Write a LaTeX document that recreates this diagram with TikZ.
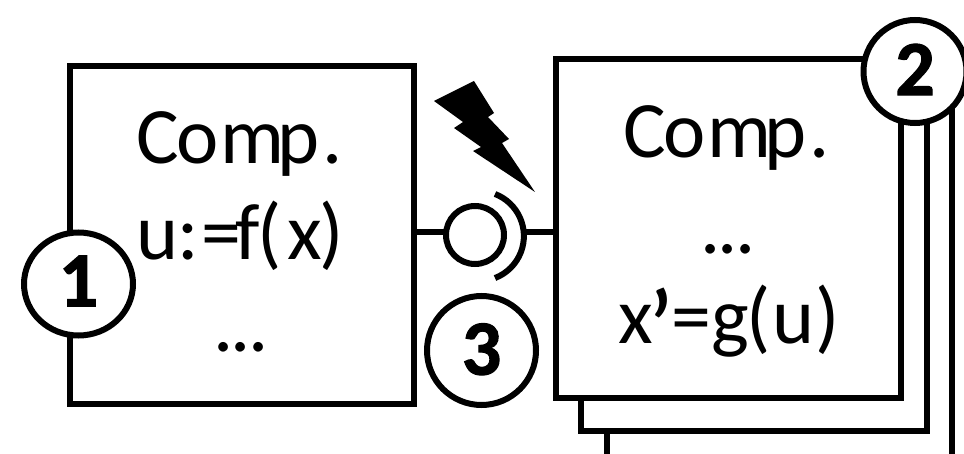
\documentclass[tikz,border=0pt]{standalone}
\usepackage{fontspec}
\setmainfont[BoldFeatures={FakeBold=1.5}]{Carlito}
\usetikzlibrary{shapes.geometric}
\newcommand{\compword}{C\kern-2.5pt o\kern1.5pt m\kern-6.5pt p\kern3pt .}
\newcommand{\dotsword}{.\kern-3pt .\kern-3pt .}
\tikzset{
  box/.style={draw=black,line width=6pt,fill=white,line join=miter,outer sep=0pt},
  num/.style={draw=black,line width=6pt,fill=white,inner sep=0pt,outer sep=0pt,font=\fontsize{78}{78}\selectfont\bfseries},
  lbl/.style={font=\fontsize{80}{80}\selectfont,inner sep=0pt,anchor=base west},
  wire/.style={draw=black,line width=6pt}
}
\begin{document}
\begin{tikzpicture}[x=1pt,y=-1pt]
\useasboundingbox (0,0) rectangle (964,454);
\begin{scope}
\clip (0,0) rectangle (964,454);
% stacked boxes
\draw[box] (607,60) rectangle (952,456.7);
\draw[box] (581,60) rectangle (927,431);
\node[box,minimum width=345pt,minimum height=339pt,inner sep=0pt,anchor=north west] (R) at (556,59) {};
\node[box,minimum width=344pt,minimum height=338pt,inner sep=0pt,anchor=north west] (L) at (70,66) {};
% connector
\coordinate (LE) at (414,232);
\coordinate (RE) at (556,232);
\node[wire,circle,minimum size=58pt,inner sep=0pt,outer sep=0pt,fill=white] (C) at (475,235) {};
\draw[wire] (LE) -- (C.west |- LE);
\draw[wire] (524,232) -- (RE);
\draw[line width=6pt,black] (495,194) arc[start angle=-69,end angle=69,radius=45];
% bolt
\fill[black] (434,101) -- (474,81) -- (494,113) -- (488,117) -- (509,139) -- (502,143) -- (535,192) -- (473,151) -- (481,147) -- (454,128) -- (463,122) -- cycle;
% labels
\node[lbl] (t1) at (136.5,164) {\compword};
\node[lbl] (t2) at (136,260) {u\kern-1pt :\kern3pt =\kern-6pt f\kern-2pt (\kern5pt x\kern-2pt )};
\node[lbl,anchor=base] (t3) at (241,352) {\dotsword};
\node[lbl] (t4) at (623.5,158) {\compword};
\node[lbl,anchor=base] (t5) at (728,254) {\dotsword};
\node[lbl] (t6) at (618,344) {x\kern-5pt \raisebox{-22pt}{\fontsize{110}{110}\selectfont ’}\kern-4pt =g\kern-2pt (\kern1pt u\kern1pt )};
% badges
\node[num,ellipse,minimum width=109pt,minimum height=103pt] (n1) at (78.5,284) {\raisebox{6pt}{1}};
\node[num,circle,minimum size=103pt] (n2) at (915,71.5) {\raisebox{4pt}{2}};
\node[num,circle,minimum size=109pt] (n3) at (481.5,350.5) {\raisebox{3pt}{3}};
\end{scope}
\end{tikzpicture}
\end{document}
